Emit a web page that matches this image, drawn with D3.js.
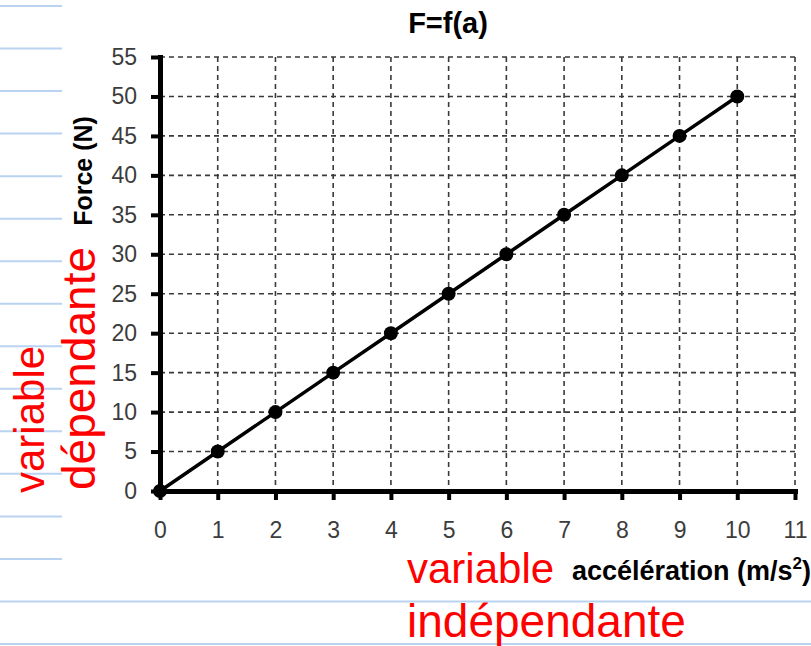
<!DOCTYPE html>
<html>
<head>
<meta charset="utf-8">
<script src="https://cdn.jsdelivr.net/npm/d3@7"></script>
<style>
html, body { margin: 0; padding: 0; background: #fff; }
svg { display: block; }
</style>
</head>
<body>
<svg id="chart" width="811" height="646"></svg>
<script>
// ---- data ----
const acceleration = [0, 1, 2, 3, 4, 5, 6, 7, 8, 9, 10];
const force = [0, 5, 10, 15, 20, 25, 30, 35, 40, 45, 50];
const xTickValues = [0, 1, 2, 3, 4, 5, 6, 7, 8, 9, 10, 11];
const yTickValues = [0, 5, 10, 15, 20, 25, 30, 35, 40, 45, 50, 55];
const title = "F=f(a)";
const yLabel = "Force (N)";
const xLabelMain = "accélération (m/s";
const xLabelSup = "2";
const xLabelEnd = ")";
const annotDep = ["variable", "dépendante"];
const annotIndep = ["variable", "indépendante"];

// ---- layout ----
const W = 811, H = 646;
const svg = d3.select("#chart");
const x = d3.scaleLinear().domain([0, 11]).range([160, 795]);
const y = d3.scaleLinear().domain([0, 55]).range([491, 57]);

// notebook lines (decoration)
const lineGap = (644 - 6) / 15;
const blue = "#b9d3f1";
const nb = svg.append("g");
d3.range(16).forEach(i => {
  const yy = 6 + i * lineGap;
  const full = i >= 14;
  nb.append("line")
    .attr("x1", 0).attr("x2", full ? W : 62)
    .attr("y1", yy).attr("y2", yy)
    .attr("stroke", blue).attr("stroke-width", 2);
});

// grid
const grid = svg.append("g")
  .attr("stroke", "#3a3a3a")
  .attr("stroke-width", 1.6)
  .attr("stroke-dasharray", "5,4");
yTickValues.filter(v => v > 0).forEach(v => {
  grid.append("line")
    .attr("x1", x(0)).attr("x2", x(11))
    .attr("y1", y(v)).attr("y2", y(v));
});
xTickValues.filter(v => v > 0).forEach(v => {
  grid.append("line")
    .attr("x1", x(v)).attr("x2", x(v))
    .attr("y1", y(55)).attr("y2", y(0));
});

// axes
const tickFont = "'Liberation Sans', Arial, sans-serif";
const yAxis = svg.append("g")
  .attr("transform", `translate(${x(0)},0)`)
  .call(d3.axisLeft(y).tickValues(yTickValues).tickSize(9).tickSizeOuter(0).tickPadding(14));
const xAxis = svg.append("g")
  .attr("transform", `translate(0,${y(0)})`)
  .call(d3.axisBottom(x).tickValues(xTickValues).tickSize(9).tickSizeOuter(0).tickPadding(22));
[yAxis, xAxis].forEach(g => {
  g.select(".domain").attr("stroke", "#000").attr("stroke-width", 5).attr("stroke-linecap", "square");
  g.selectAll(".tick line").attr("stroke", "#000").attr("stroke-width", 4);
  g.selectAll(".tick text")
    .attr("fill", "#3c3c3c")
    .style("font-family", tickFont)
    .style("font-size", "23px");
});

// data line and markers
svg.append("path")
  .datum(acceleration.map((a, i) => [a, force[i]]))
  .attr("fill", "none")
  .attr("stroke", "#000")
  .attr("stroke-width", 3.5)
  .attr("d", d3.line().x(d => x(d[0])).y(d => y(d[1])));
svg.append("g").selectAll("circle")
  .data(acceleration.map((a, i) => [a, force[i]]))
  .join("circle")
  .attr("cx", d => x(d[0]))
  .attr("cy", d => y(d[1]))
  .attr("r", 7)
  .attr("fill", "#000");

// title
svg.append("text")
  .attr("x", 448).attr("y", 33)
  .attr("text-anchor", "middle")
  .style("font-family", tickFont)
  .style("font-weight", "bold")
  .style("font-size", "29px")
  .text(title);

// axis titles
svg.append("text")
  .attr("transform", "translate(92,171) rotate(-90)")
  .attr("text-anchor", "middle")
  .style("font-family", tickFont)
  .style("font-weight", "bold")
  .style("font-size", "25px")
  .text(yLabel);

const xl = svg.append("text")
  .attr("x", 572).attr("y", 580)
  .style("font-family", tickFont)
  .style("font-weight", "bold")
  .style("font-size", "27px");
xl.append("tspan").text(xLabelMain);
xl.append("tspan").attr("dy", -11).style("font-size", "17px").text(xLabelSup);
xl.append("tspan").attr("dy", 11).text(xLabelEnd);

// red annotations
const redFont = "'Liberation Sans', Arial, sans-serif";
svg.append("text")
  .attr("transform", "translate(44,493) rotate(-90)")
  .attr("fill", "#ff0000")
  .style("font-family", redFont).style("font-size", "42px")
  .text(annotDep[0]);
svg.append("text")
  .attr("transform", "translate(95,490) rotate(-90)")
  .attr("fill", "#ff0000")
  .style("font-family", redFont).style("font-size", "46px")
  .text(annotDep[1]);
svg.append("text")
  .attr("x", 407).attr("y", 583)
  .attr("fill", "#ff0000")
  .style("font-family", redFont).style("font-size", "42px")
  .text(annotIndep[0]);
svg.append("text")
  .attr("x", 407).attr("y", 637)
  .attr("fill", "#ff0000")
  .style("font-family", redFont).style("font-size", "46px")
  .text(annotIndep[1]);
</script>
</body>
</html>
